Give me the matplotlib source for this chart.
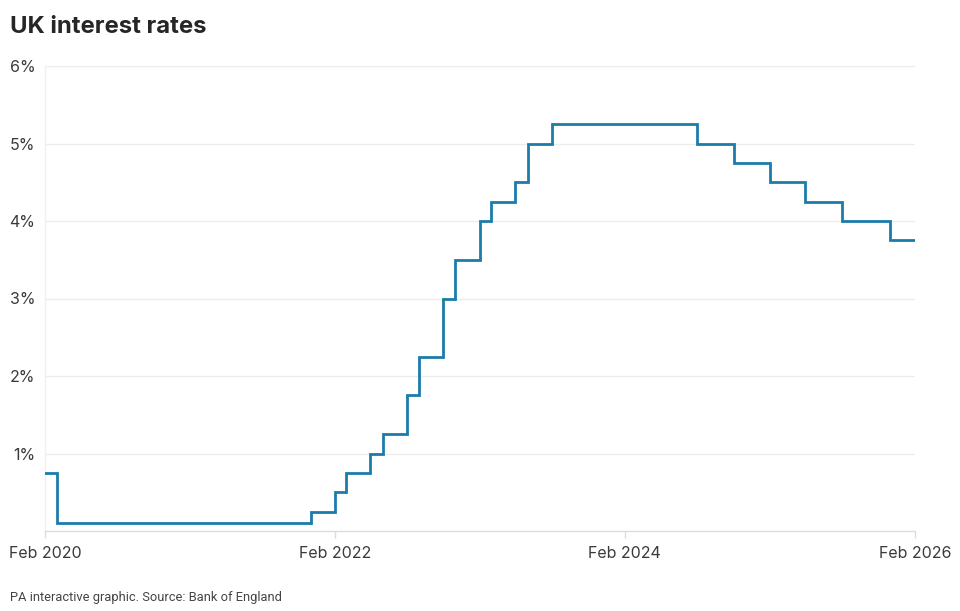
import matplotlib

matplotlib.use("Agg")

import matplotlib.pyplot as plt
import matplotlib.dates as mdates
import pandas as pd

plt.rcParams["font.family"] = ["Inter", "DejaVu Sans"]

# Bank Rate, month in which each change took effect
change_months = [
    "2020-02", "2020-03", "2021-12", "2022-02", "2022-03", "2022-05",
    "2022-06", "2022-08", "2022-09", "2022-11", "2022-12", "2023-02",
    "2023-03", "2023-05", "2023-06", "2023-08", "2024-08", "2024-11",
    "2025-02", "2025-05", "2025-08", "2025-12", "2026-02",
]
rates = [
    0.75, 0.1, 0.25, 0.5, 0.75, 1.0,
    1.25, 1.75, 2.25, 3.0, 3.5, 4.0,
    4.25, 4.5, 5.0, 5.25, 5.0, 4.75,
    4.5, 4.25, 4.0, 3.75, 3.75,
]
y_ticks = [1, 2, 3, 4, 5, 6]
x_ticks = ["2020-02", "2022-02", "2024-02", "2026-02"]

LINE_COLOR = "#1b7cab"
GRID_COLOR = "#ececec"
TEXT_COLOR = "#3a3a3a"

dates = pd.to_datetime(change_months)

fig = plt.figure(figsize=(9.6, 6.11), dpi=100)
ax = fig.add_axes([45 / 960, 1 - 531 / 611, 870 / 960, 465 / 611])

ax.step(dates, rates, where="post", color=LINE_COLOR, lw=2.0, solid_joinstyle="miter", zorder=3)

ax.set_xlim(pd.Timestamp("2020-02-01"), pd.Timestamp("2026-02-01"))
ax.set_ylim(0, 6)

ax.set_yticks(y_ticks)
ax.set_yticklabels([f"{t}%" for t in y_ticks])
ax.set_xticks(pd.to_datetime(x_ticks))
ax.xaxis.set_major_formatter(mdates.DateFormatter("%b %Y"))

ax.grid(axis="y", color=GRID_COLOR, lw=1.0)
ax.set_axisbelow(True)
for side in ["top", "right"]:
    ax.spines[side].set_visible(False)
ax.spines["left"].set_color("#f0f0f0")
ax.spines["bottom"].set_color("#dcdcdc")
ax.spines["left"].set_linewidth(1.0)
ax.spines["bottom"].set_linewidth(1.0)

ax.tick_params(axis="y", length=0, pad=7, labelsize=11.5, labelcolor=TEXT_COLOR)
ax.tick_params(axis="x", length=5, width=1, color="#dcdcdc", pad=6, labelsize=11.5, labelcolor=TEXT_COLOR)

fig.text(10 / 960, 1 - 27 / 611, "UK interest rates", fontsize=17.2, fontweight="bold",
         color="#262626", va="center", ha="left")
fig.text(10 / 960, 1 - 597 / 611, "PA interactive graphic. Source: Bank of England",
         fontsize=9.3, color="#444444", va="center", ha="left", family=["Roboto", "DejaVu Sans"])

fig.savefig("out.png", dpi=100, facecolor="white")
